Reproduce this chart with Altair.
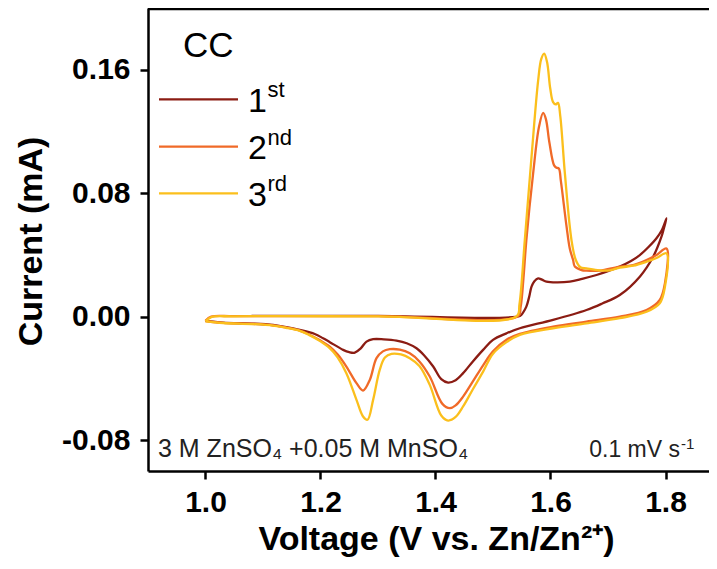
import altair as alt
import pandas as pd

# ---------------- data ----------------
cycles = ["1st", "2nd", "3rd"]
colors = ["#8b1c13", "#f06a28", "#fbbf1c"]

v1 = [1.08, 1.30, 1.547, 1.552, 1.558, 1.563, 1.567, 1.572, 1.5785, 1.585, 1.593, 1.61, 1.6336, 1.655, 1.68, 1.70,
      1.7205, 1.74, 1.7553, 1.77, 1.784, 1.7935, 1.8017,
      1.797, 1.793, 1.7785, 1.7553, 1.7205, 1.69, 1.6626, 1.6045, 1.5466, 1.5235, 1.50, 1.4828, 1.465, 1.448, 1.435,
      1.4219, 1.41, 1.396, 1.38, 1.367, 1.35, 1.3322, 1.31, 1.2915, 1.28, 1.27, 1.2597, 1.25, 1.2393, 1.2162, 1.2045,
      1.19, 1.164, 1.14, 1.1176, 1.08, 1.0306, 1.0]
i1 = [0.0005, 0.0005, 0.0005, 0.0025, 0.0065, 0.013, 0.0194, 0.023, 0.0248, 0.0240, 0.0227, 0.0222, 0.0227, 0.0245,
      0.027, 0.0295, 0.0324, 0.036, 0.0399, 0.045, 0.0507, 0.056, 0.0637,
      0.057, 0.0518, 0.0388, 0.0259, 0.014, 0.0085, 0.0043, -0.0021, -0.0075, -0.0108, -0.015, -0.0215, -0.029,
      -0.0366, -0.0412, -0.0427, -0.0405, -0.0323, -0.025, -0.0205, -0.0172, -0.0155, -0.0147, -0.0146, -0.0162,
      -0.0205, -0.0233, -0.0230, -0.0215, -0.0165, -0.014, -0.0112, -0.0086, -0.0068, -0.0054, -0.0045, -0.0039,
      -0.0026]

v2 = [1.0, 1.01, 1.05, 1.3, 1.5437, 1.548, 1.553, 1.558, 1.5698, 1.58, 1.5872, 1.592, 1.598, 1.6063, 1.6105, 1.6145,
      1.618, 1.628, 1.6336, 1.6393, 1.6423, 1.654, 1.6626, 1.6857, 1.7205, 1.7437, 1.767, 1.7843, 1.8017,
      1.799, 1.79, 1.767, 1.7205, 1.6626, 1.6045, 1.5466, 1.5235, 1.50, 1.4828, 1.465, 1.448, 1.435, 1.4249, 1.412,
      1.39, 1.372, 1.3553, 1.338, 1.3205, 1.3085, 1.2974, 1.2857, 1.274, 1.2626, 1.245, 1.23, 1.216, 1.2, 1.18,
      1.164, 1.14, 1.1176, 1.08, 1.0306, 1.0]
i2 = [-0.0026, 0.0, 0.0003, 0.0003, 0.0003, 0.006, 0.025, 0.0496, 0.0928, 0.123, 0.132, 0.128, 0.113, 0.098, 0.0965,
      0.096, 0.088, 0.0582, 0.044, 0.0367, 0.0325, 0.0302, 0.0298, 0.0298, 0.0324, 0.0334, 0.0367, 0.040, 0.0442,
      0.0216, 0.0108, 0.0043, 0.0, -0.0032, -0.0065, -0.0112, -0.015, -0.0225, -0.0315, -0.042, -0.0518, -0.0575,
      -0.0593, -0.0565, -0.0388, -0.029, -0.0237, -0.0214, -0.0211, -0.0225, -0.0269, -0.041, -0.0479, -0.0431,
      -0.0323, -0.0245, -0.0194, -0.0155, -0.0115, -0.0090, -0.0070, -0.0056, -0.0046, -0.004, -0.0028]

v3 = [1.0, 1.01, 1.05, 1.3, 1.541, 1.546, 1.5553, 1.567, 1.5785, 1.584, 1.589, 1.594, 1.5995, 1.6045, 1.609, 1.613,
      1.617, 1.625, 1.6365, 1.644, 1.652, 1.6626, 1.685, 1.703, 1.7205, 1.7437, 1.767, 1.7843, 1.8017,
      1.799, 1.79, 1.767, 1.7205, 1.6626, 1.6045, 1.5466, 1.5235, 1.50, 1.4828, 1.465, 1.448, 1.435, 1.422, 1.41,
      1.39, 1.372, 1.3553, 1.34, 1.3235, 1.312, 1.303, 1.2915, 1.2817, 1.274, 1.2626, 1.245, 1.23, 1.216, 1.2, 1.18,
      1.164, 1.14, 1.1176, 1.08, 1.0306, 1.0]
i3 = [-0.003, -0.0003, 0.0002, 0.0002, 0.0002, 0.008, 0.0496, 0.1035, 0.153, 0.167, 0.1704, 0.165, 0.148, 0.139,
      0.1375, 0.1385, 0.130, 0.0928, 0.0496, 0.0367, 0.032, 0.0313, 0.030, 0.030, 0.0318, 0.0330, 0.0356, 0.038,
      0.041,
      0.0194, 0.0087, 0.0032, -0.001, -0.0043, -0.0075, -0.0118, -0.0165, -0.024, -0.0356, -0.047, -0.0582, -0.065,
      -0.0673, -0.0640, -0.0442, -0.0320, -0.0269, -0.0245, -0.0241, -0.0265, -0.0345, -0.0539, -0.0668, -0.0647,
      -0.0539, -0.0366, -0.0265, -0.0204, -0.0160, -0.0118, -0.0092, -0.0072, -0.0058, -0.0048, -0.0041, -0.003]

x_ticks = [1.0, 1.2, 1.4, 1.6, 1.8]
y_ticks = [-0.08, 0.0, 0.08, 0.16]
legend_main = ["1", "2", "3"]
legend_sup = ["st", "nd", "rd"]

# ---------------- layout ----------------
W, H = 561, 463
FONT = "Liberation Sans"

rows = []
for name, vs, cs in [(cycles[0], v1, i1), (cycles[1], v2, i2), (cycles[2], v3, i3)]:
    for k, (v, c) in enumerate(zip(vs, cs)):
        rows.append({"cycle": name, "V": v, "I": c, "idx": k})
df = pd.DataFrame(rows)

color_scale = alt.Scale(domain=cycles, range=colors)

lines = alt.Chart(df).mark_line(strokeWidth=2.3, interpolate="catmull-rom").encode(
    x=alt.X("V:Q",
            scale=alt.Scale(domain=[0.9, 0.9 + W / 575.0], nice=False, zero=False),
            axis=alt.Axis(values=x_ticks, format=".1f",
                          title="Voltage (V vs. Zn/Zn²⁺)",
                          titleX=288, titleY=78, titleBaseline="alphabetic",
                          titleAlign="center", titleAnchor="middle",
                          labelPadding=8)),
    y=alt.Y("I:Q",
            scale=alt.Scale(domain=[-0.1, 0.2], nice=False, zero=False),
            axis=alt.Axis(values=y_ticks,
                          labelExpr="datum.value < 0 ? '-' + format(-datum.value, '.2f') : format(datum.value, '.2f')",
                          title="Current (mA)",
                          titleAngle=270, titleX=-107, titleY=233,
                          titleBaseline="alphabetic", titleAlign="center",
                          labelPadding=10)),
    color=alt.Color("cycle:N", scale=color_scale, legend=None),
    order=alt.Order("idx:Q"),
)

one = pd.DataFrame({"k": [0]})

top_rule = alt.Chart(one).mark_rule(strokeWidth=2.5, color="black").encode(
    x=alt.value(0), x2=alt.value(W), y=alt.value(1)
)

layers = [lines, top_rule]

layers.append(alt.Chart(one).mark_text(font=FONT, fontSize=35, align="left", baseline="alphabetic",
                                       color="black").encode(
    x=alt.value(35), y=alt.value(49), text=alt.value("CC")))

leg_y = [91.3, 138.7, 185.3]
for k in range(3):
    ldf = pd.DataFrame({"cycle": [cycles[k]]})
    layers.append(alt.Chart(ldf).mark_rule(strokeWidth=2.3).encode(
        x=alt.value(11), x2=alt.value(90), y=alt.value(leg_y[k]),
        color=alt.Color("cycle:N", scale=color_scale, legend=None)))
    layers.append(alt.Chart(ldf).mark_text(font=FONT, fontSize=34, align="left", baseline="alphabetic",
                                           color="black").encode(
        x=alt.value(100), y=alt.value(leg_y[k] + 12.4), text=alt.value(legend_main[k])))
    layers.append(alt.Chart(ldf).mark_text(font=FONT, fontSize=22, align="left", baseline="alphabetic",
                                           color="black").encode(
        x=alt.value(119.5), y=alt.value(leg_y[k] - 2), text=alt.value(legend_sup[k])))

layers.append(alt.Chart(one).mark_text(font=FONT, fontSize=25, align="left", baseline="alphabetic",
                                       color="#222222").encode(
    x=alt.value(10), y=alt.value(448.7), text=alt.value("3 M ZnSO₄ +0.05 M MnSO₄")))
layers.append(alt.Chart(one).mark_text(font=FONT, fontSize=23, align="right", baseline="alphabetic",
                                       color="#222222").encode(
    x=alt.value(532), y=alt.value(449.3), text=alt.value("0.1 mV s")))
layers.append(alt.Chart(one).mark_text(font=FONT, fontSize=15, align="left", baseline="alphabetic",
                                       color="#222222").encode(
    x=alt.value(533), y=alt.value(441), text=alt.value("-1")))

chart = alt.layer(*layers).properties(
    width=W, height=H,
    autosize=alt.AutoSizeParams(type="none"),
    padding={"left": 140, "top": 0, "right": 0, "bottom": 86},
).configure_view(strokeWidth=0).configure_axis(
    grid=False,
    domainColor="black", domainWidth=2.5,
    tickColor="black", tickWidth=2.5, tickSize=8,
    labelFont=FONT, labelFontSize=30, labelFontWeight="bold", labelColor="black",
    titleFont=FONT, titleFontSize=34, titleFontWeight="bold", titleColor="black",
).configure_axisX(labelFlush=False).configure_axisY(labelFlush=False)

chart.save("out.html", embed_options={"renderer": "svg", "actions": False})
